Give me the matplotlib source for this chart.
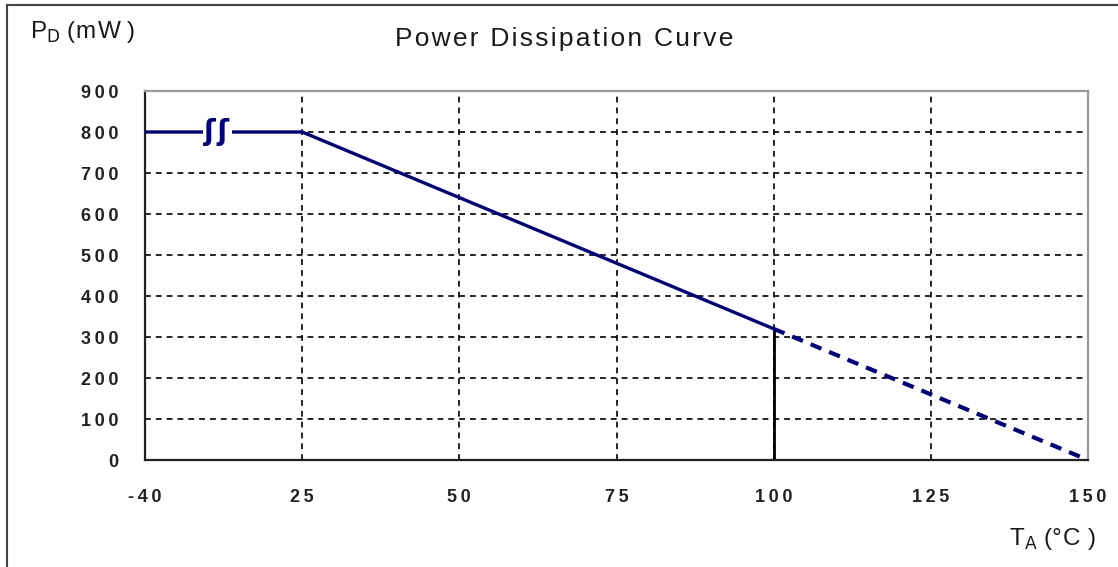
import matplotlib.pyplot as plt
from matplotlib.lines import Line2D

plt.rcParams['font.family'] = ['Liberation Sans', 'DejaVu Sans']

# curve data (deg C, mW)
temps_solid = [-40, 25, 100]
power_solid = [800, 800, 320]
temps_dash = [100, 150]
power_dash = [320, 0]
x_ticks = [-40, 25, 50, 75, 100, 125, 150]
y_ticks = [0, 100, 200, 300, 400, 500, 600, 700, 800, 900]

SP = '\u2009'   # thin space for tick digits
HS = '\u200a'   # hair space for the labels


def spaced(s, sep=SP):
    # the original uses wide letter spacing
    return sep.join(s)


def xpos(t):
    # broken axis: -40..25 squeezed into one 25-degree slot
    if t < 25:
        return (t + 40) / 65.0
    return 1 + (t - 25) / 25.0


fig = plt.figure(figsize=(11.18, 5.67), dpi=100)
ax = fig.add_axes([0.1297, 0.1887, 0.9732 - 0.1297, 0.8395 - 0.1887])

navy = '#000080'
for t in x_ticks[1:-1]:
    ax.axvline(xpos(t), color='black', lw=1.2, ls=(0, (3.5, 3)), zorder=1)
for v in y_ticks[1:-1]:
    ax.axhline(v, color='black', lw=1.2, ls=(0, (3.5, 3)), zorder=1)

ax.plot([xpos(t) for t in temps_solid], power_solid, color=navy, lw=2.4,
        solid_capstyle='butt', zorder=3)
ax.plot([xpos(t) for t in temps_dash], power_dash, color=navy, lw=3,
        ls=(0, (2.8, 2)), zorder=3)
ax.plot([xpos(100), xpos(100)], [0, power_dash[0]], color='black', lw=2, zorder=2)

# axis break mark
ax.text(0.46, 800, 'ʃ\u200aʃ', color=navy, fontsize=20, fontweight='bold',
        ha='center', va='center', family='DejaVu Sans', zorder=4,
        bbox=dict(facecolor='white', edgecolor='none', pad=1.0))

ax.set_xlim(0, 6)
ax.set_ylim(0, 900)
ax.set_xticks([xpos(t) for t in x_ticks])
ax.set_xticklabels([spaced(str(t)) for t in x_ticks])
ax.set_yticks(y_ticks)
ax.set_yticklabels([spaced(str(v)) for v in y_ticks])
ax.tick_params(axis='both', length=0, labelsize=13, colors='#222222')
ax.tick_params(axis='x', pad=21)
ax.tick_params(axis='y', pad=19)
for lab in ax.get_xticklabels() + ax.get_yticklabels():
    lab.set_fontweight('bold')

ax.spines['left'].set_color('#222222')
ax.spines['bottom'].set_color('#222222')
ax.spines['top'].set_color('#999999')
ax.spines['right'].set_color('#999999')
for s in ax.spines.values():
    s.set_linewidth(1.6)

fig.text(0.505, 0.919, spaced('Power Dissipation Curve', HS), ha='center',
         va='baseline', fontsize=19, color='#1a1a1a')
fig.text(0.027, 0.933, 'P$_\\mathrm{D}$ (' + spaced('mW', HS) + ' )',
         ha='left', va='baseline', fontsize=17.5, color='#1a1a1a')
fig.text(0.98, 0.039, 'T$_\\mathrm{A}$ (' + spaced('°C', HS) + ' )',
         ha='right', va='baseline', fontsize=17.5, color='#1a1a1a')

# outer frame (top and left edges)
fig.add_artist(Line2D([0.006, 1.0], [0.991, 0.991], color='#444444', lw=1.5,
                      transform=fig.transFigure))
fig.add_artist(Line2D([0.0065, 0.0065], [0.0, 0.991], color='#444444', lw=1.5,
                      transform=fig.transFigure))

fig.savefig('out.png', dpi=100)
